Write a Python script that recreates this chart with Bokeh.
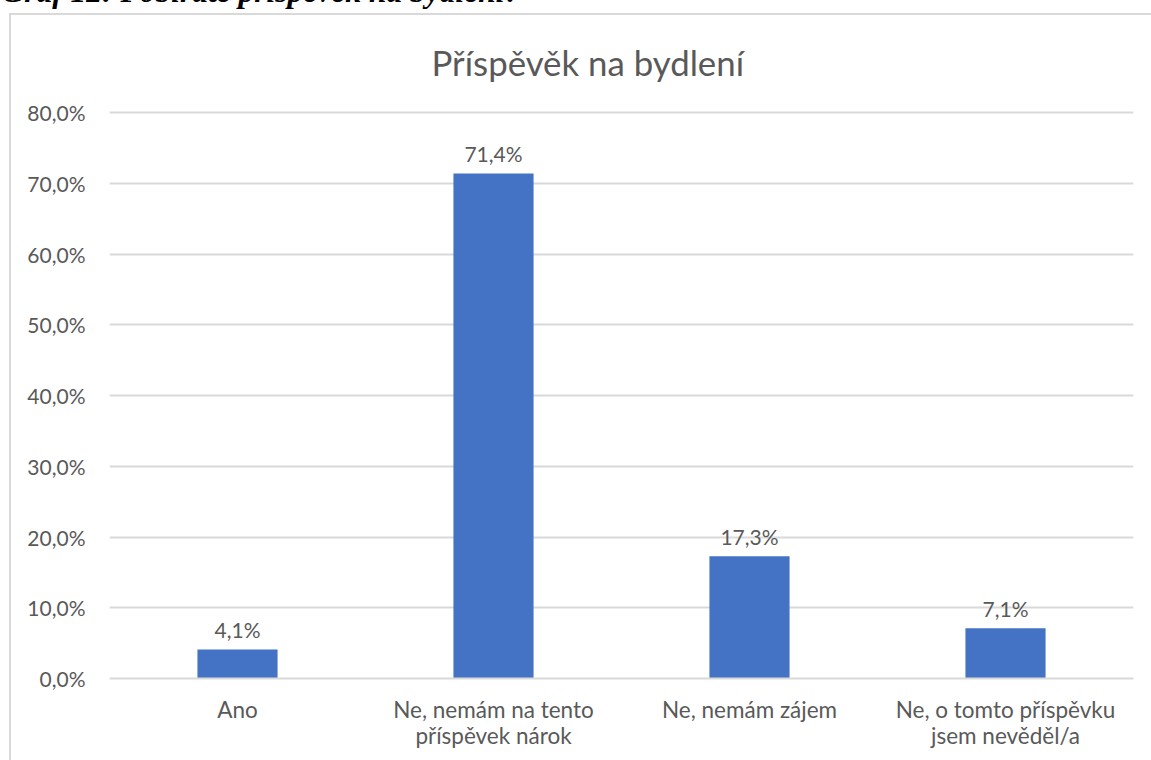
from bokeh.plotting import figure
from bokeh.models import Title, ColumnDataSource, FixedTicker, Range1d
from bokeh.core.properties import value
from bokeh.embed import file_html
from bokeh.resources import INLINE

# ---- data ----
categories = ["Ano", "Ne, nemám na tento\npříspěvek nárok", "Ne, nemám zájem",
              "Ne, o tomto příspěvku\njsem nevěděl/a"]
values = [4.1, 71.4, 17.3, 7.1]
value_labels = ["4,1%", "71,4%", "17,3%", "7,1%"]
y_ticks = [0, 10, 20, 30, 40, 50, 60, 70, 80]
y_tick_labels = ["0,0%", "10,0%", "20,0%", "30,0%", "40,0%", "50,0%", "60,0%", "70,0%", "80,0%"]
chart_title = "Příspěvěk na bydlení"
caption = "Graf 12: Pobíráte příspěvek na bydlení?"

FONT = "Lato"
TXT = "#595959"
GRID = "#D9D9D9"
BAR = "#4472C4"

SHIFT = 45               # canvas is shifted up so the caption above the chart box is cropped
W, H = 1151, 760 + SHIFT

p = figure(x_range=categories, y_range=Range1d(0, 80.3), width=W, height=H,
           output_backend="svg", toolbar_location=None,
           min_border_left=109, min_border_right=18, min_border_top=110 + SHIFT,
           min_border_bottom=82)
p.outline_line_color = None
p.background_fill_color = "white"
p.border_fill_color = None
p.styles = {
    "margin-top": f"-{SHIFT}px",
    "background-color": "white",
    "background-image": f"linear-gradient({GRID},{GRID}), linear-gradient({GRID},{GRID})",
    "background-repeat": "no-repeat",
    "background-position": f"9px {13 + SHIFT}px, 9px {13 + SHIFT}px",
    "background-size": "3000px 2px, 2px 3000px",
}

src = ColumnDataSource(dict(cat=categories, val=values, lab=value_labels))
p.vbar(x="cat", top="val", width=0.313, source=src, fill_color=BAR, line_color=None)
p.text(x="cat", y="val", text="lab", source=src, text_align="center", text_baseline="alphabetic",
       y_offset=-19.5, text_font=value(FONT), text_font_size="21px", text_color=TXT)

# y axis
p.yaxis.ticker = FixedTicker(ticks=y_ticks)
p.yaxis.major_label_overrides = {t: l for t, l in zip(y_ticks, y_tick_labels)}
p.yaxis.axis_line_color = None
p.yaxis.major_tick_line_color = None
p.yaxis.minor_tick_line_color = None
p.yaxis.major_tick_out = 0
p.yaxis.major_tick_in = 0
p.yaxis.major_label_standoff = 24
p.yaxis.major_label_text_font = FONT
p.yaxis.major_label_text_font_size = "21px"
p.yaxis.major_label_text_color = TXT

# x axis
p.xaxis.axis_line_color = GRID
p.xaxis.axis_line_width = 2
p.xaxis.major_tick_line_color = None
p.xaxis.minor_tick_line_color = None
p.xaxis.major_tick_out = 0
p.xaxis.major_tick_in = 0
p.xaxis.major_label_standoff = 17
p.xaxis.major_label_text_font = FONT
p.xaxis.major_label_text_font_size = "22.5px"
p.xaxis.major_label_text_color = TXT
p.xaxis.major_label_text_line_height = 0.97

p.xgrid.grid_line_color = None
p.ygrid.grid_line_color = GRID
p.ygrid.grid_line_width = 2
p.ygrid.ticker = FixedTicker(ticks=y_ticks)

# chart title (closest to the frame), then the cropped caption above it
p.add_layout(Title(text=chart_title, align="left", offset=322, standoff=55,
                   text_font=FONT, text_font_size="34.8px", text_font_style="normal",
                   text_color=TXT), "above")
p.add_layout(Title(text=caption, align="left", offset=-108, standoff=8,
                   text_font="Liberation Serif", text_font_size="31.5px",
                   text_font_style="bold italic", text_color="black"), "above")

open("out.html", "w").write(file_html(p, INLINE))
